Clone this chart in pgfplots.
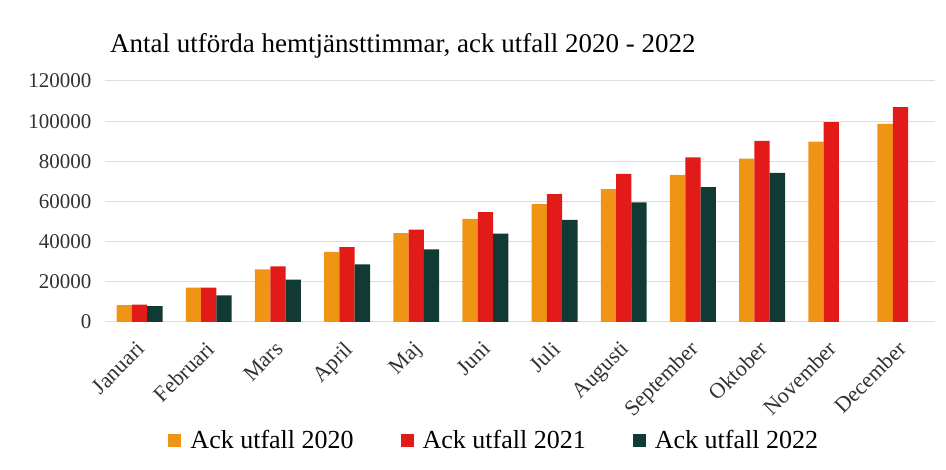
\documentclass[border=0pt]{standalone}
\usepackage{fontspec}
\setmainfont{Liberation Serif}
\usepackage{pgfplots}
\usepackage{pgfplotstable}
\pgfplotsset{compat=1.18}

\definecolor{c2020}{RGB}{240,148,22}
\definecolor{c2021}{RGB}{226,26,24}
\definecolor{c2022}{RGB}{18,58,52}
\definecolor{gridgray}{RGB}{222,222,222}
\definecolor{textgray}{RGB}{50,50,50}

% ackumulerat utfall per månad (0 = januari)
\pgfplotstableread{
m   v
0   8400
1   17100
2   26200
3   34900
4   44300
5   51300
6   58700
7   66200
8   73300
9   81300
10  89800
11  98700
}\utfallA

\pgfplotstableread{
m   v
0   8700
1   17100
2   27700
3   37300
4   46000
5   54700
6   63700
7   73700
8   82000
9   90200
10  99500
11  107000
}\utfallB

\pgfplotstableread{
m   v
0   7900
1   13300
2   21100
3   28700
4   36200
5   44000
6   50800
7   59500
8   67200
9   74200
}\utfallC

\begin{document}
\begin{tikzpicture}
\useasboundingbox (0,0) rectangle (946pt,470pt);
\node[anchor=base west, font=\fontsize{27}{30}\selectfont, text=black, inner sep=0pt]
    at (110pt,417pt) {Antal utförda hemtjänsttimmar, ack utfall 2020 - 2022};
\begin{axis}[
    at={(105pt,148pt)},
    anchor=south west,
    scale only axis,
    width=830pt,
    height=241pt,
    ybar=0pt,
    bar width=15.3pt,
    xmin=-0.5, xmax=11.5,
    ymin=0, ymax=120000,
    ytick={0,20000,40000,60000,80000,100000,120000},
    yticklabels={0,20000,40000,60000,80000,100000,120000},
    xtick={0,...,11},
    xticklabels={Januari,Februari,Mars,April,Maj,Juni,Juli,Augusti,September,Oktober,November,December},
    scaled y ticks=false,
    axis line style={draw=none},
    major tick length=0pt,
    ymajorgrids,
    grid style={draw=gridgray, line width=1pt},
    yticklabel style={font=\fontsize{21}{24}\selectfont, text=textgray, xshift=-10pt},
    xticklabel style={font=\fontsize{22}{25}\selectfont, text=textgray, xshift=-4pt, yshift=-13pt, rotate=45, anchor=north east},
    legend columns=3,
    legend style={
        at={(0.469,-0.49)}, anchor=center, draw=none, fill=none,
        font=\fontsize{26}{29}\selectfont,
        /tikz/every even column/.append style={column sep=45pt},
        /tikz/every odd column/.append style={column sep=7pt},
    },
    legend image code/.code={\fill[#1] (0pt,-7pt) rectangle (13pt,6pt);},
]
\addplot[fill=c2020, draw=none] table[x=m, y=v] {\utfallA};
\addplot[fill=c2021, draw=none] table[x=m, y=v] {\utfallB};
\addplot[fill=c2022, draw=none] table[x=m, y=v] {\utfallC};
\legend{Ack utfall 2020, Ack utfall 2021, Ack utfall 2022}
\end{axis}
\end{tikzpicture}
\end{document}
